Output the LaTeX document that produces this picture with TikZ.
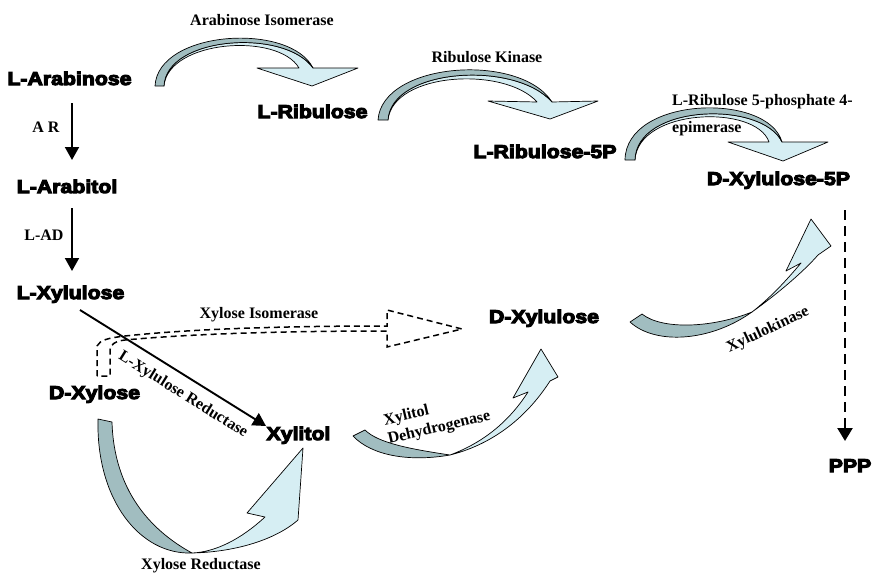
\documentclass[tikz,border=0pt]{standalone}
\usepackage{fontspec}
\newfontfamily\heavy{Liberation Sans}[FakeBold=6, FakeStretch=1.15]
\newfontfamily\ser{Liberation Serif}
\usetikzlibrary{arrows.meta}

\definecolor{bandDark}{RGB}{161,189,192}
\definecolor{bandLight}{RGB}{214,238,243}

\tikzset{
  mol/.style={font=\heavy\bfseries\fontsize{18.5}{20}\selectfont, inner sep=0pt, anchor=base},
  enz/.style={font=\ser\bfseries\fontsize{16}{17}\selectfont, inner sep=0pt},
  darkpart/.style={fill=bandDark, draw=black, line width=0.7pt, line join=round},
  lightpart/.style={fill=bandLight, draw=black, line width=0.7pt, line join=round},
  conn/.style={line width=1.9pt, -{Triangle[width=14pt,length=13pt]}},
  dconn/.style={line width=2.4pt, dash pattern=on 10pt off 6pt, -{Triangle[width=15pt,length=13pt]}},
  dshape/.style={draw=black, line width=1.5pt, dash pattern=on 6pt off 4pt, line join=miter},
}

\begin{document}
\begin{tikzpicture}[x=1pt, y=-1pt]
\useasboundingbox (0,0) rectangle (878,573);

% metabolites
\node[mol] (arabinose) at (69.5,85) {L-Arabinose};
\node[mol] (arabitol)  at (67,193) {L-Arabitol};
\node[mol] (lxylulose) at (70.5,299) {L-Xylulose};
\node[mol] (dxylose)   at (94.5,399) {D-Xylose};
\node[mol] (xylitol)   at (298.5,440) {Xylitol};
\node[mol] (dxylulose) at (544,323) {D-Xylulose};
\node[mol] (ribulose)  at (312.5,118) {L-Ribulose};
\node[mol] (ribulose5p) at (545,158) {L-Ribulose-5P};
\node[mol] (xylulose5p) at (778.5,185) {D-Xylulose-5P};
\node[mol] (ppp)       at (850,472) {PPP};

% enzymes
\node[enz, anchor=base] (ai)  at (262,25) {Arabinose Isomerase};
\node[enz, anchor=base] (rk)  at (487,62) {Ribulose Kinase};
\node[enz, anchor=west, align=left, font=\ser\bfseries\fontsize{16}{27}\selectfont] (epi) at (672,115)
  {L-Ribulose 5-phosphate 4-\\epimerase};
\node[enz, anchor=base] (ar)  at (46,132) {A R};
\node[enz, anchor=base] (lad) at (44,240) {L-AD};
\node[enz, anchor=base] (xi)  at (259,318) {Xylose Isomerase};
\node[enz, rotate=-32] (lxr) at (183,395) {L-Xylulose Reductase};
\node[enz, align=left, rotate=13, font=\ser\bfseries\fontsize{16}{19}\selectfont] (xdh) at (437,419) {Xylitol\\Dehydrogenase};
\node[enz, rotate=25] (xk) at (768,330) {Xylulokinase};
\node[enz, anchor=base] (xr) at (201,569) {Xylose Reductase};

% straight reactions
\coordinate (arS) at (72,103);  \coordinate (arE) at (72,160);
\coordinate (ladS) at (72,208); \coordinate (ladE) at (72,271);
\coordinate (lxrS) at (80,310); \coordinate (lxrE) at (266,426);
\coordinate (pppS) at (845,210); \coordinate (pppE) at (845,441);

% Xylose isomerase (dashed outline arrow)
\path[dshape] (97,376) -- (97,346) .. controls (100,340) and (108,338) .. (125,336)
  .. controls (200,328) and (300,326) .. (387,326) -- (387,310) -- (462,329) -- (387,347) -- (387,331)
  .. controls (300,331) and (200,333) .. (125,340)
  .. controls (115,341) and (110,345) .. (110,350) -- (110,376) -- cycle;

\draw[conn] (arS) -- (arE);
\draw[conn] (ladS) -- (ladE);
\draw[conn] (lxrS) -- (lxrE);
\draw[dconn] (pppS) -- (pppE);

% Arabinose isomerase
\path[lightpart] (164,86) .. controls (166,36) and (285,28) .. (313,68) -- (358,68) -- (312,86) -- (257,68) -- (299,68)
  .. controls (278,32) and (168,40) .. (164,86) -- cycle;
\path[darkpart] (155,86) .. controls (158,30) and (290,22) .. (313,68) .. controls (285,28) and (166,36) .. (164,86) -- cycle;

% Ribulose kinase
\path[lightpart] (388,120) .. controls (391,68) and (515,60) .. (552,102) -- (598,101) -- (550,119) -- (488,101) -- (537,102)
  .. controls (505,66) and (393,72) .. (388,120) -- cycle;
\path[darkpart] (378,120) .. controls (382,62) and (520,52) .. (552,102) .. controls (515,60) and (391,68) .. (388,120) -- cycle;

% Epimerase
\path[lightpart] (635,160) .. controls (636,104) and (762,100) .. (782,142) -- (828,142) -- (783,161) -- (728,142) -- (769,142)
  .. controls (756,104) and (638,108) .. (635,160) -- cycle;
\path[darkpart] (625,160) .. controls (626,96) and (768,92) .. (782,142) .. controls (762,100) and (636,104) .. (635,160) -- cycle;

% Xylose reductase
\path[darkpart] (98,419) .. controls (96,500) and (140,555) .. (192,553) .. controls (150,530) and (114,490) .. (112,422) -- cycle;
\path[lightpart] (192,553) .. controls (235,552) and (275,540) .. (298,520) -- (303,448) -- (247,513) -- (265,517)
  .. controls (240,540) and (215,552) .. (192,553) -- cycle;

% Xylitol dehydrogenase
\path[darkpart] (353,436) .. controls (372,456) and (410,462) .. (450,455) .. controls (410,449) and (378,443) .. (365,430) -- cycle;
\path[lightpart] (450,455) .. controls (490,445) and (525,420) .. (550,381) -- (558,377) -- (541,349) -- (513,398) -- (528,392)
  .. controls (510,420) and (485,442) .. (450,455) -- cycle;

% Xylulokinase
\path[darkpart] (630,322) .. controls (655,345) and (710,342) .. (752,312) .. controls (712,328) and (662,330) .. (642,314) -- cycle;
\path[lightpart] (752,312) .. controls (780,292) and (805,270) .. (818,255) -- (831,246) -- (811,219) -- (786,271) -- (801,263)
  .. controls (785,282) and (770,298) .. (752,312) -- cycle;
\end{tikzpicture}
\end{document}
